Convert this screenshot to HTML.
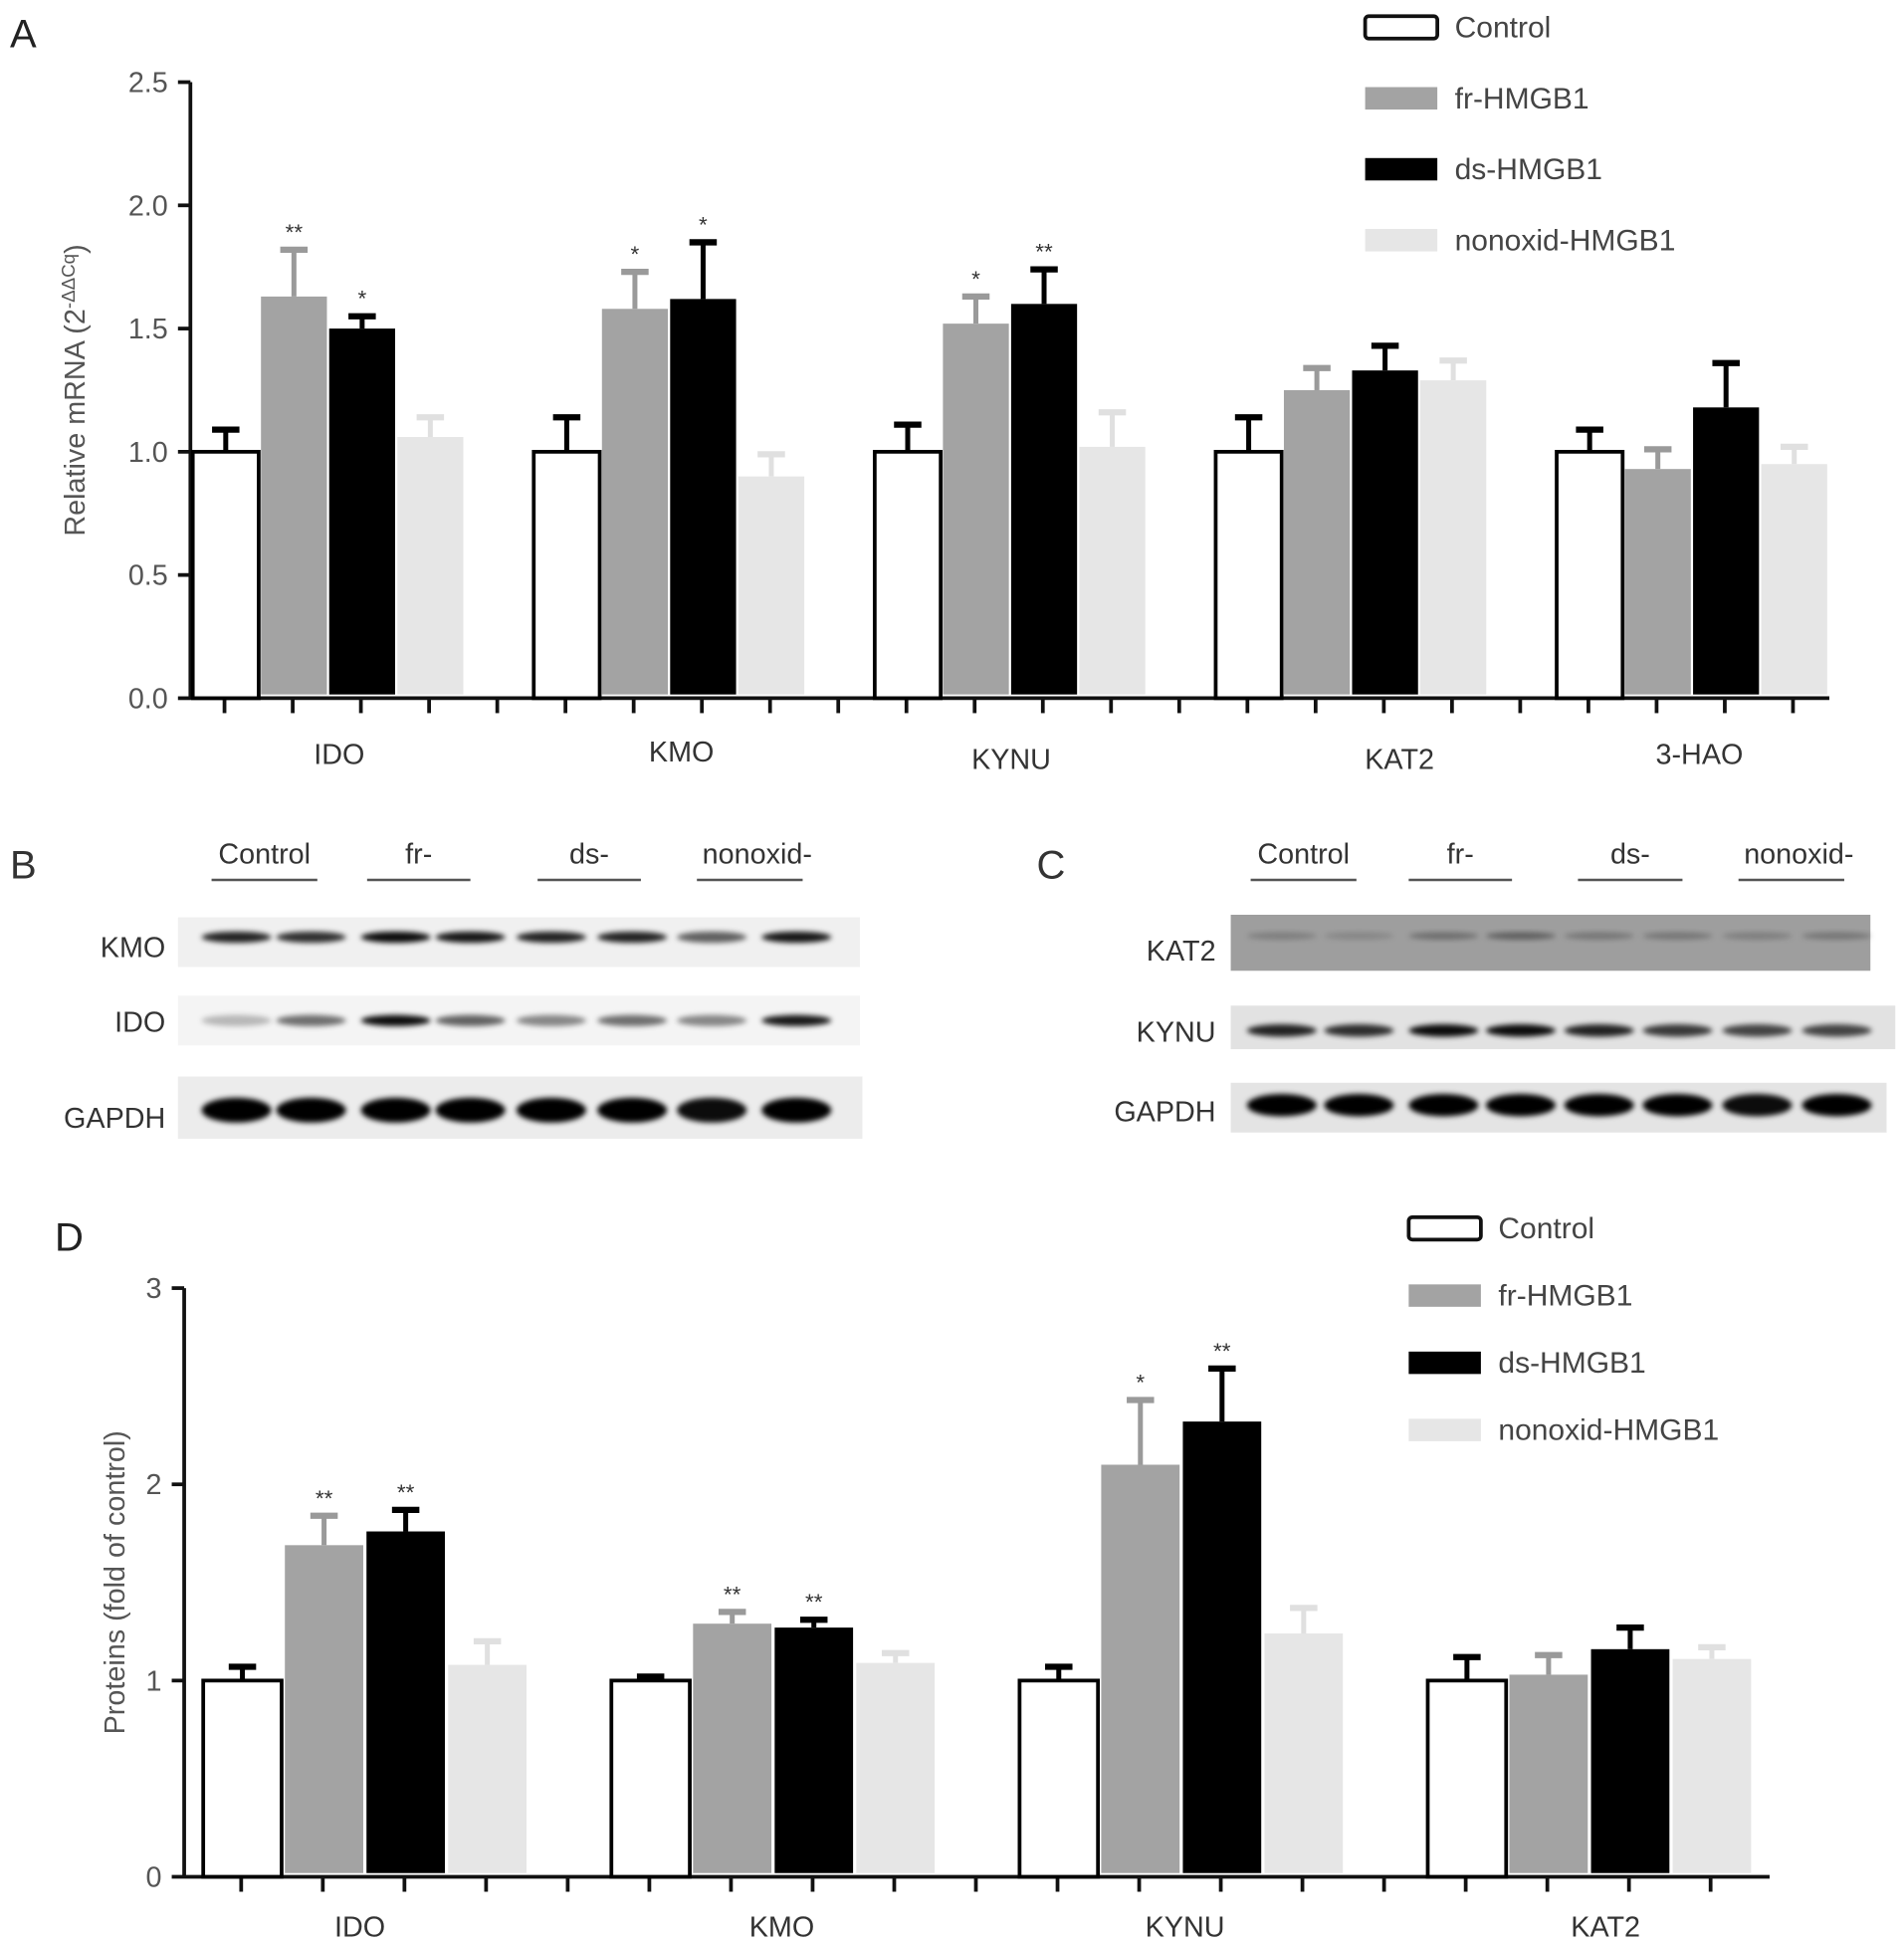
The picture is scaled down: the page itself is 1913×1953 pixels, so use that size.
<!DOCTYPE html>
<html><head><meta charset="utf-8"><style>
html,body{margin:0;padding:0;background:#fff}
svg{display:block}
text{font-family:"Liberation Sans",sans-serif}
</style></head><body>
<svg id="fig" width="1913" height="1953" viewBox="0 0 1530 1562" xmlns="http://www.w3.org/2000/svg">
<defs>
<filter id="blur" x="-20%" y="-50%" width="140%" height="200%"><feGaussianBlur stdDeviation="2.2"/></filter>
</defs>
<g id="chartA"></g>
<g id="blots"></g>
<g id="chartD"></g>
</svg>
<script>
const seriesNames = ["Control","fr-HMGB1","ds-HMGB1","nonoxid-HMGB1"];
const seriesFill = ["#ffffff","#a3a3a3","#000000","#e6e6e6"];
const seriesErrColor = ["#000","#9a9a9a","#000","#e0e0e0"];
// Panel A data
const catsA = ["IDO","KMO","KYNU","KAT2","3-HAO"];
const ctrlA = [1.0,1.0,1.0,1.0,1.0];
const frA = [1.63,1.58,1.52,1.25,0.93];
const dsA = [1.50,1.62,1.60,1.33,1.18];
const nonA = [1.06,0.90,1.02,1.29,0.95];
const ctrlAErr = [0.09,0.14,0.11,0.14,0.09];
const frAErr = [0.19,0.15,0.11,0.09,0.08];
const dsAErr = [0.05,0.23,0.14,0.10,0.18];
const nonAErr = [0.08,0.09,0.14,0.08,0.07];
const frAStar = ["**","*","*","",""];
const dsAStar = ["*","*","**","",""];
const ticksA = ["0.0","0.5","1.0","1.5","2.0","2.5"];
const tickValsA = [0,0.5,1,1.5,2,2.5];
// Panel D data
const catsD = ["IDO","KMO","KYNU","KAT2"];
const ctrlD = [1.0,1.0,1.0,1.0];
const frD = [1.69,1.29,2.10,1.03];
const dsD = [1.76,1.27,2.32,1.16];
const nonD = [1.08,1.09,1.24,1.11];
const ctrlDErr = [0.07,0.02,0.07,0.12];
const frDErr = [0.15,0.06,0.33,0.10];
const dsDErr = [0.11,0.04,0.27,0.11];
const nonDErr = [0.12,0.05,0.13,0.06];
const frDStar = ["**","**","*",""];
const dsDStar = ["**","**","**",""];
const ticksD = ["0","1","2","3"];
const tickValsD = [0,1,2,3];

const NS="http://www.w3.org/2000/svg";
function mk(parent,tag,attrs,txt){const e=document.createElementNS(NS,tag);for(const k in attrs)e.setAttribute(k,attrs[k]);if(txt!==undefined)e.textContent=txt;parent.appendChild(e);return e;}

function drawChart(g,cfg){
  const {x0,off,y0,yTop,vmax,xEnd,slot,bw,cats,vals,errs,stars,ticks,tickVals,title,legX,legY,legGap,letter,letterPos,fs,catY}=cfg;
  const y=v=>y0-(y0-yTop)*v/vmax;
  const L=mk(g,'text',{x:letterPos[0],y:letterPos[1],'font-size':32,fill:'#222'},letter);
  
  
  const ya=mk(g,'line',{x1:x0,y1:yTop,x2:x0,y2:y0+1,stroke:'#111','stroke-width':3});
  
  
  const xa=mk(g,'line',{x1:x0,y1:y0,x2:xEnd,y2:y0,stroke:'#111','stroke-width':3});
  
  
  tickVals.forEach((tv,i)=>{
    mk(g,'line',{x1:x0-10,y1:y(tv),x2:x0,y2:y(tv),stroke:'#111','stroke-width':3});
    const t=mk(g,'text',{x:x0-18,y:y(tv)+8,'font-size':fs,fill:'#555','text-anchor':'end'},ticks[i]);
    
    
  });
  const tt=mk(g,'text',{transform:`translate(${cfg.titleX},${(y0+yTop)/2}) rotate(-90)`,'font-size':fs,fill:'#555','text-anchor':'middle'});
  tt.innerHTML=title;
  
  
  const base=x0+off;
  const nTicks=cats.length*5-1;
  for(let k=0;k<nTicks;k++){
    const cx=base+slot*(k+0.5);
    mk(g,'line',{x1:cx,y1:y0,x2:cx,y2:y0+12,stroke:'#111','stroke-width':3});
  }
  cats.forEach((c,i)=>{
    const gx=base+slot*5*i;
    vals.forEach((arr,s)=>{
      const bx=gx+slot*s+(slot-bw)/2+1, v=arr[i], top=y(v);
      const e=errs[s][i];
      const ey=y(v+e);
      const col=seriesErrColor[s];
      mk(g,'line',{x1:bx+bw/2,y1:top,x2:bx+bw/2,y2:ey,stroke:col,'stroke-width':4});
      mk(g,'line',{x1:bx+bw/2-11,y1:ey,x2:bx+bw/2+11,y2:ey,stroke:col,'stroke-width':5});
      const r=mk(g,'rect',{x:bx,y:top,width:bw,height:y0-top-(s===0?0:3),fill:seriesFill[s],stroke:s===0?'#000':'none','stroke-width':s===0?3:0});
      
      
      const st=(s===1?stars[0][i]:s===2?stars[1][i]:'');
      if(st){
        const sx=mk(g,'text',{x:bx+bw/2,y:ey-8,'font-size':18,fill:'#333','text-anchor':'middle'},st);
        
        
      }
    });
    const lbl=mk(g,'text',{x:gx+slot*2+cfg.catDx[i],y:catY+(cfg.catDy?cfg.catDy[i]:0),'font-size':fs,fill:'#333','text-anchor':'middle'},c);
    
    
  });
  seriesNames.forEach((n,s)=>{
    const ly=legY+legGap*s;
    const b=mk(g,'rect',{x:legX,y:ly-9,width:58,height:18,fill:seriesFill[s],stroke:s===0?'#111':'none','stroke-width':3,rx:s===0?3:0});
    
    
    const t=mk(g,'text',{x:legX+72,y:ly+8,'font-size':24,fill:'#444'},n);
    
    
  });
}

drawChart(document.getElementById('chartA'),{x0:153,off:0,y0:561,yTop:66,vmax:2.5,xEnd:1470,slot:54.8,bw:53,
  cats:catsA,vals:[ctrlA,frA,dsA,nonA],errs:[ctrlAErr,frAErr,dsAErr,nonAErr],stars:[frAStar,dsAStar],
  ticks:ticksA,tickVals:tickValsA,title:'Relative mRNA (2<tspan baseline-shift="super" font-size="15">-ΔΔCq</tspan>)',titleX:68,
  legX:1097,legY:22,legGap:57,letter:'A',letterPos:[8,38],fs:23,catY:614,catDy:[0,-2,4,4,0],catDx:[10,11,2,40,7]});
drawChart(document.getElementById('chartD'),{x0:148,off:13,y0:1508,yTop:1035,vmax:3,xEnd:1422,slot:65.6,bw:63,
  cats:catsD,vals:[ctrlD,frD,dsD,nonD],errs:[ctrlDErr,frDErr,dsDErr,nonDErr],stars:[frDStar,dsDStar],
  ticks:ticksD,tickVals:tickValsD,title:'Proteins (fold of control)',titleX:100,
  legX:1132,legY:987,legGap:54,letter:'D',letterPos:[44,1005],fs:23,catY:1556,catDx:[-3,8,4,14]});

const blotG=document.getElementById('blots');
function lab(x,y,t,anchor,size,name){const e=mk(blotG,'text',{x:x,y:y,'font-size':size,fill:'#333','text-anchor':anchor},t);}
lab(8,706,'B','start',32,'panel-letter');
lab(833,706,'C','start',32,'panel-letter');
const groupLabels=["Control","fr-","ds-","nonoxid-"];
const grpB=[[170,255],[295,378],[432,515],[560,645]];
const grpC=[[1005,1090],[1132,1215],[1268,1352],[1397,1482]];
[grpB,grpC].forEach(gs=>gs.forEach((r,i)=>{
  lab((r[0]+r[1])/2+(i===3?6:0),694,groupLabels[i],'middle',23,'blot-group-label');
  mk(blotG,'line',{x1:r[0],y1:707,x2:r[1],y2:707,stroke:'#555','stroke-width':2});
}));
function blot(x,y,w,h,bg,lanes,intens,bandY,bandH,name){
  const r=mk(blotG,'rect',{x:x,y:y,width:w,height:h,fill:bg});
  
  
  lanes.forEach((cx,i)=>{
    mk(blotG,'ellipse',{cx:cx,cy:bandY,rx:28,ry:bandH/2,fill:'#000','fill-opacity':intens[i],filter:'url(#blur)'});
  });
}
const lanesB=[190,250,318,378,443,508,572,640];
const lanesC=[1030,1092,1160,1222,1285,1348,1412,1476];
blot(143,737,548,40,'#f0f0f0',lanesB,[0.85,0.8,0.95,0.9,0.85,0.85,0.6,0.9],753,9,'kmo-blot');
blot(143,800,548,40,'#f4f4f4',lanesB,[0.25,0.55,0.95,0.6,0.45,0.55,0.45,0.9],820,9,'ido-blot');
blot(143,865,550,50,'#ececec',lanesB,[1,1,1,1,1,1,0.95,1],892,20,'gapdh-blot-b');
blot(989,735,514,45,'#9e9e9e',lanesC,[0.2,0.15,0.3,0.4,0.25,0.25,0.2,0.25],752,6,'kat2-blot');
blot(989,808,534,35,'#e2e2e2',lanesC,[0.85,0.8,0.95,0.95,0.85,0.75,0.7,0.7],828,10,'kynu-blot');
blot(989,870,527,40,'#e4e4e4',lanesC,[1,1,1,1,1,1,0.95,1],888,18,'gapdh-blot-c');
lab(133,769,'KMO','end',23,'blot-row-label');
lab(133,829,'IDO','end',23,'blot-row-label');
lab(133,906,'GAPDH','end',23,'blot-row-label');
lab(977,772,'KAT2','end',23,'blot-row-label');
lab(977,837,'KYNU','end',23,'blot-row-label');
lab(977,901,'GAPDH','end',23,'blot-row-label');
</script>
</body></html>
